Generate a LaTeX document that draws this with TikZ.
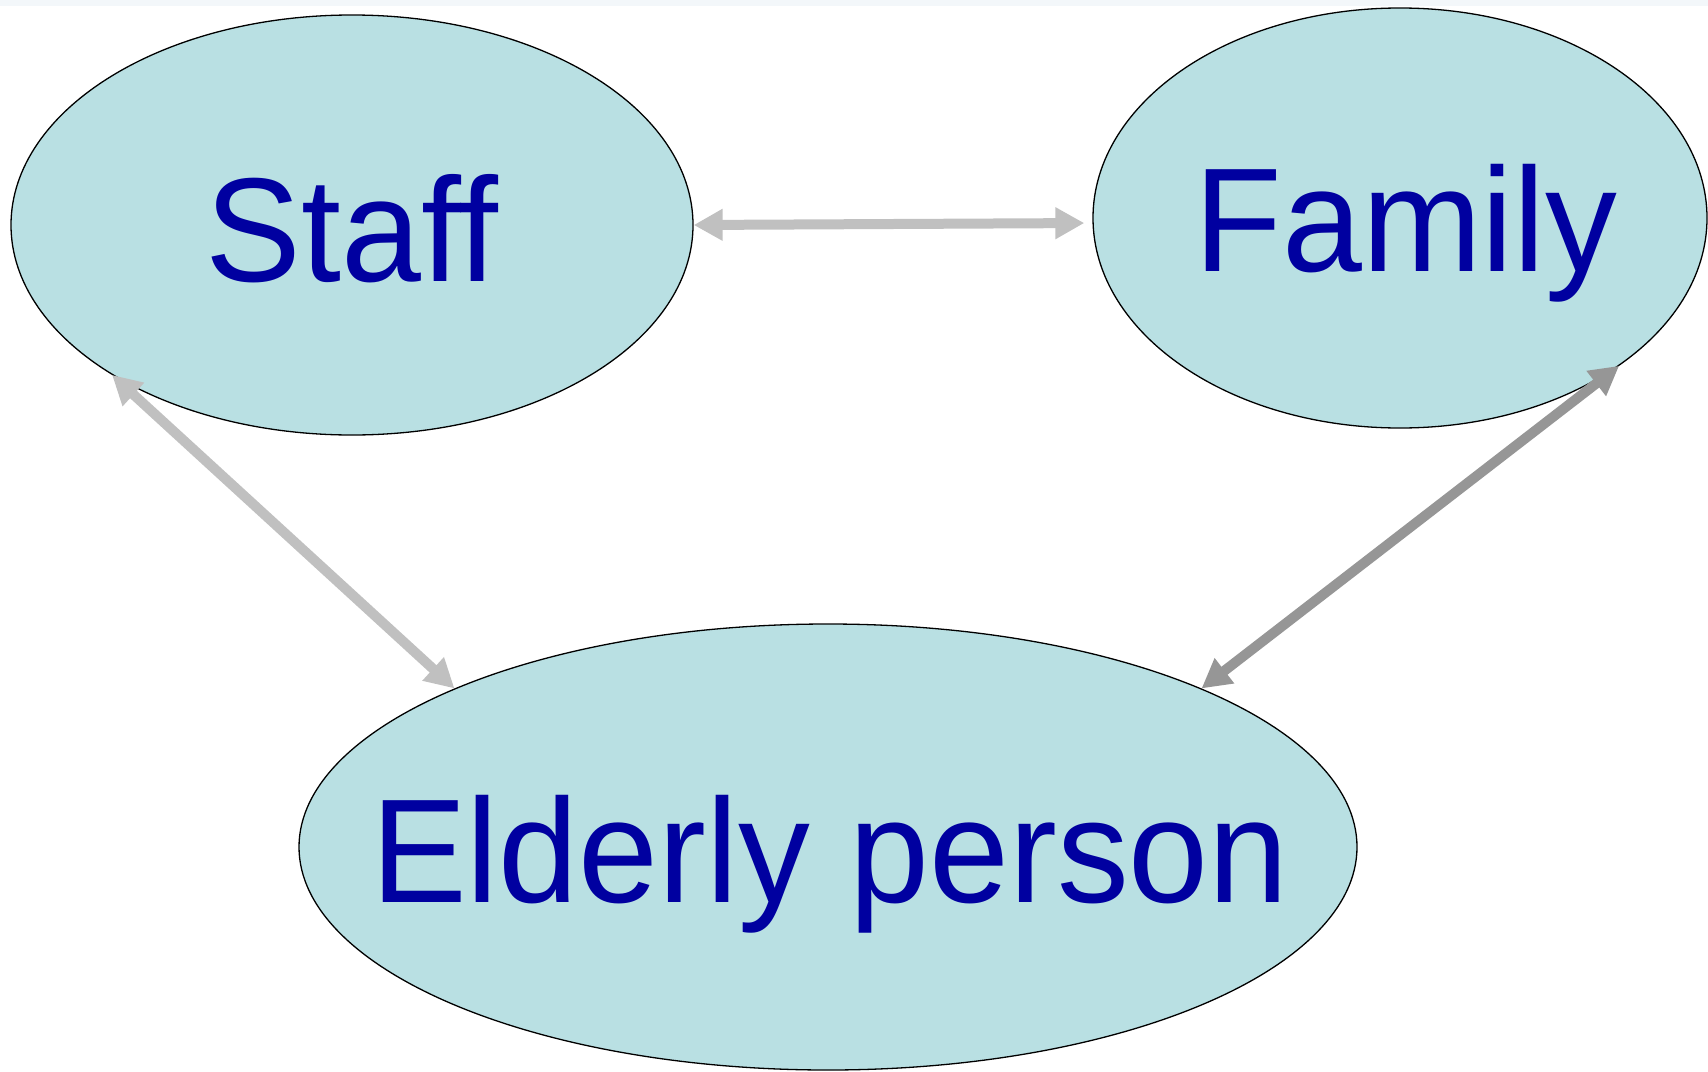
\documentclass[tikz,border=0pt]{standalone}
\usepackage{fontspec}
\setmainfont{Liberation Sans}[FakeStretch=0.97]
\usepackage{tikz}
\usetikzlibrary{arrows.meta,shapes.geometric,positioning}
\definecolor{bubble}{RGB}{185,224,227}
\definecolor{ink}{RGB}{0,0,160}
\definecolor{lightgrey}{RGB}{192,192,192}
\definecolor{midgrey}{RGB}{150,150,150}
\definecolor{strip}{RGB}{243,247,250}

\begin{document}
\begin{tikzpicture}[x=1pt,y=-1pt,<->,>={Triangle[length=29pt,width=30pt]},
                    line width=10pt,
                    party/.style={ellipse,draw=black,line width=1.3pt,fill=bubble,inner sep=0pt},
                    word/.style={anchor=base,text=ink,font=\fontsize{148}{160}\selectfont}]
    \useasboundingbox (0,0) rectangle (1708,1071);
    \fill[strip] (0,0) rectangle (1708,6);
    \node [party,minimum width=682pt,minimum height=420pt]  (staff)   at (352,225) {};
    \node [party,minimum width=614pt,minimum height=420pt]  (family)  at (1400,218) {};
    \node [party,minimum width=1058pt,minimum height=446pt] (elderly) at (828,847) {};
    \node [word] (stafftext)   at ([yshift=-56pt]staff.center)               {Staff};
    \node [word] (familytext)  at ([xshift=6pt,yshift=-53pt]family.center)   {Family};
    \node [word] (elderlytext) at ([xshift=2pt,yshift=-55pt]elderly.center)  {Elderly person};
    \draw [lightgrey,shorten >=8pt] (staff.east) -- ([yshift=-5pt]family.west);
    \draw [lightgrey] (staff.212) -- (elderly.157);
    \draw [midgrey] (family.-34) -- (elderly.23);
\end{tikzpicture}
\end{document}
